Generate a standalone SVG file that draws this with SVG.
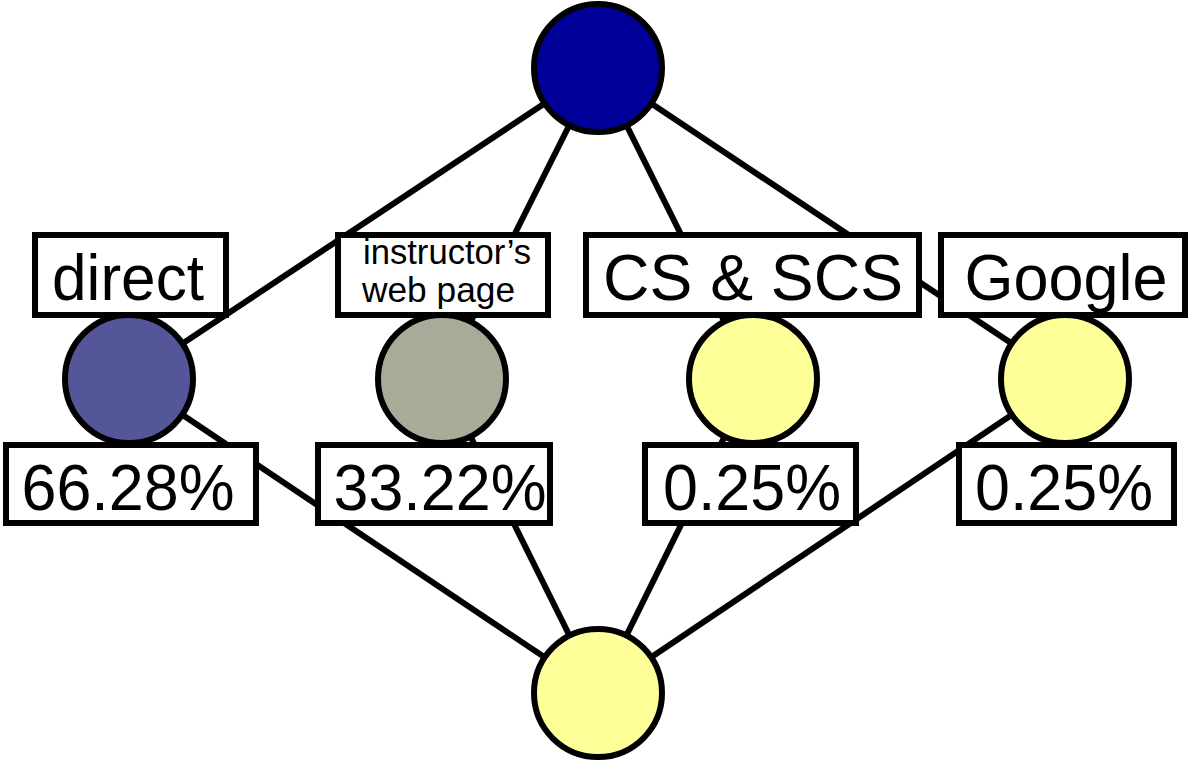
<svg xmlns="http://www.w3.org/2000/svg" width="1191" height="761" viewBox="0 0 1191 761">
<style>
.edge{stroke:#000;stroke-width:6;fill:none}
.node{stroke:#000;stroke-width:6}
.box{fill:#fff;stroke:#000;stroke-width:6}
.lbl{font-family:"Liberation Sans",Arial,sans-serif;font-size:65px;fill:#000;text-anchor:middle}
.small{font-family:"Liberation Sans",Arial,sans-serif;font-size:35px;fill:#000}
</style>
<rect width="1191" height="761" fill="#fff"/>
<g id="connectors">
<line class="edge" x1="598" y1="68" x2="129" y2="379"/>
<line class="edge" x1="598" y1="68" x2="442" y2="379"/>
<line class="edge" x1="598" y1="68" x2="753" y2="379"/>
<line class="edge" x1="598" y1="68" x2="1065" y2="379"/>
<line class="edge" x1="129" y1="379" x2="598" y2="693"/>
<line class="edge" x1="442" y1="379" x2="598" y2="693"/>
<line class="edge" x1="753" y1="379" x2="598" y2="693"/>
<line class="edge" x1="1065" y1="379" x2="598" y2="693"/>
</g>
<g id="top"><circle class="node" cx="598" cy="68" r="64" fill="#000099"/></g>
<g id="bottom"><circle class="node" cx="598" cy="693" r="64" fill="#FFFF99"/></g>
<g id="direct">
<circle class="node" cx="129" cy="379" r="64" fill="#555599"/>
<rect class="box" x="35" y="235" width="191" height="80"/>
<text class="lbl" x="128" y="300" textLength="152" lengthAdjust="spacingAndGlyphs">direct</text>
<rect class="box" x="6" y="445" width="250" height="78"/>
<text class="lbl" x="128" y="510" textLength="213" lengthAdjust="spacingAndGlyphs">66.28%</text>
</g>
<g id="instructor">
<circle class="node" cx="442" cy="379" r="64" fill="#AAAA99"/>
<rect class="box" x="338" y="235" width="210" height="80"/>
<text class="small" x="363" y="264" textLength="168" lengthAdjust="spacingAndGlyphs">instructor’s</text>
<text class="small" x="362" y="302" textLength="153" lengthAdjust="spacingAndGlyphs">web page</text>
<rect class="box" x="318" y="445" width="232" height="78"/>
<text class="lbl" x="440" y="510" textLength="213" lengthAdjust="spacingAndGlyphs">33.22%</text>
</g>
<g id="cs">
<circle class="node" cx="753" cy="379" r="64" fill="#FFFF99"/>
<rect class="box" x="586" y="235" width="333" height="80"/>
<text class="lbl" x="753" y="300" textLength="300" lengthAdjust="spacingAndGlyphs">CS &amp; SCS</text>
<rect class="box" x="645" y="445" width="211" height="78"/>
<text class="lbl" x="752" y="510" textLength="178" lengthAdjust="spacingAndGlyphs">0.25%</text>
</g>
<g id="google">
<circle class="node" cx="1065" cy="379" r="64" fill="#FFFF99"/>
<rect class="box" x="941" y="235" width="244" height="80"/>
<text class="lbl" x="1066" y="300" textLength="203" lengthAdjust="spacingAndGlyphs">Google</text>
<rect class="box" x="959" y="445" width="215" height="78"/>
<text class="lbl" x="1064" y="510" textLength="178" lengthAdjust="spacingAndGlyphs">0.25%</text>
</g>
</svg>
